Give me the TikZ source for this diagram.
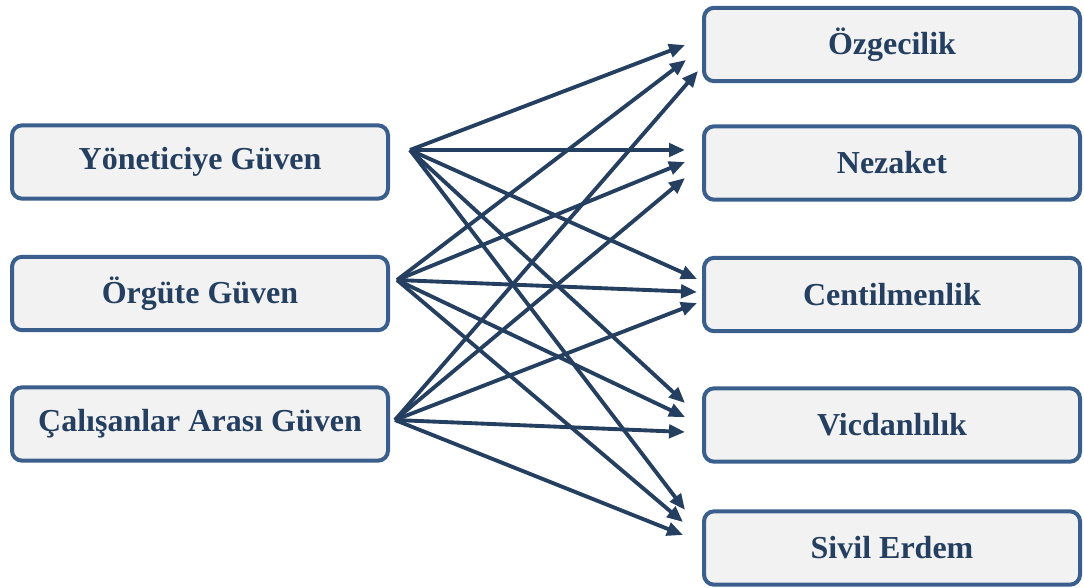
\documentclass[tikz,border=0pt]{standalone}
\usepackage{fontspec}
\setmainfont{Liberation Serif}
\usetikzlibrary{arrows.meta}
\definecolor{boxline}{HTML}{3A5F8D}
\definecolor{boxfill}{HTML}{F2F2F2}
\definecolor{ink}{HTML}{243F60}
\begin{document}
\begin{tikzpicture}
 [x=0.75pt,y=-0.75pt,
  every node/.style={draw=boxline,fill=boxfill,line width=3pt,rounded corners=7.5pt,
    minimum width=282pt,minimum height=55pt,text=ink,
    font=\fontsize{24}{28}\selectfont\bfseries},
  link/.style={draw=ink,line width=2.9pt,-{Triangle[length=12pt,width=10pt]}}]
  \useasboundingbox (0,0) rectangle (1084,588);

  \node (yon) at (200,162)   {Yöneticiye Güven};
  \node (org) at (200,293.5) {Örgüte Güven};
  \node (cal) at (200,424)   {Çalışanlar Arası Güven};

  \node (ozg) at (892,44.5)  {Özgecilik};
  \node (nez) at (892,163)   {Nezaket};
  \node (cen) at (892,294.5) {Centilmenlik};
  \node (vic) at (892,425)   {Vicdanlılık};
  \node (siv) at (892,548)   {Sivil Erdem};

  \coordinate (yon-src) at ([shift={(20,-12)}]yon.east);
  \coordinate (org-src) at ([shift={(7,-13.5)}]org.east);
  \coordinate (cal-src) at ([shift={(5,-4)}]cal.east);

  \foreach \from/\to/\dx/\dy in {yon/ozg/-17/0.5,org/ozg/-16/15.5,cal/ozg/-4/26.5,
      yon/nez/-17/-13,org/nez/-17/-1,cal/nez/-17/15,
      yon/cen/-5/-15.5,org/cen/-5/-2.5,cal/cen/-5/8.5,
      yon/vic/-17/-22,org/vic/-17/-8,cal/vic/-17/7,
      yon/siv/-17/-38,org/siv/-19/-26,cal/siv/-19/-13}
    \draw[link] (\from-src) -- ([shift={(\dx,\dy)}]\to.west);
\end{tikzpicture}
\end{document}
